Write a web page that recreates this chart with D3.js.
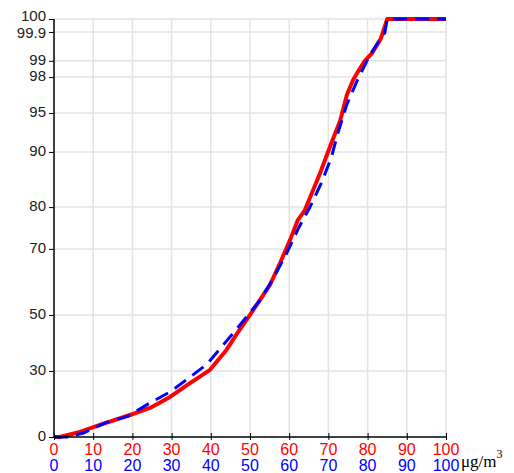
<!DOCTYPE html>
<html>
<head>
<meta charset="utf-8">
<script src="https://cdn.jsdelivr.net/npm/d3@7"></script>
<style>
body { margin:0; background:#fff; }
</style>
</head>
<body>
<svg id="chart" width="514" height="473"></svg>
<script>
// probability ticks on the y axis (cumulative %)
var yTicks = [0, 30, 50, 70, 80, 90, 95, 98, 99, 99.9, 100];
var yTickLabels = ["0", "30", "50", "70", "80", "90", "95", "98", "99", "99.9", "100"];
var xTicks = [0, 10, 20, 30, 40, 50, 60, 70, 80, 90, 100];

// red series: [concentration, cumulative %]
var redX = [0, 1.5, 6.6, 11.7, 19.4, 24.5, 29.6, 34.7, 39.8, 44, 47, 50, 55.1, 57.7, 60.2, 62.2, 64, 67.9, 70.5, 73, 74.7, 76.3, 78.1, 79.3, 81.2, 83.4, 85, 100];
var redP = [0, 0, 2.3, 5.5, 10, 13.2, 18.2, 24.5, 30.4, 37.5, 44, 50, 59.1, 65.8, 72.1, 76.9, 79.3, 86.2, 90.8, 94, 96.5, 97.75, 98.56, 99, 99.25, 99.7, 100, 100];

// blue series
var blueX = [0, 3.4, 7.5, 13, 18.9, 24.5, 29.6, 34.7, 39, 43, 46.6, 52.6, 55.9, 59.4, 62.5, 65.3, 68.3, 70.8, 72.4, 74.7, 77.2, 80.6, 84.4, 85, 100];
var blueP = [0, 0, 1.8, 6.4, 9.5, 15.5, 20.5, 27.2, 32.4, 39, 45, 54.5, 61, 68.8, 75.2, 80, 84.5, 89.1, 92.4, 95.7, 97.6, 99.19, 99.88, 100, 100];

var margin = {left:54, top:19, right:68, bottom:36};
var width = 514 - margin.left - margin.right;
var height = 473 - margin.top - margin.bottom;

var svg = d3.select("#chart");
var g = svg.append("g").attr("transform", "translate(" + margin.left + "," + margin.top + ")");

var x = d3.scaleLinear().domain([0, 100]).range([0, width]);
var yFrac = [0, 0.158, 0.292, 0.450, 0.550, 0.682, 0.775, 0.861, 0.900, 0.969, 1];
var y = d3.scaleLinear()
    .domain(yTicks)
    .range(yFrac.map(function(f) { return height - f * height; }));

// grid
g.append("g").selectAll("line")
    .data(xTicks.slice(1))
    .enter().append("line")
    .attr("x1", function(d) { return x(d); })
    .attr("x2", function(d) { return x(d); })
    .attr("y1", y(100)).attr("y2", y(0))
    .style("stroke", "#e3e3e3").style("stroke-width", 1.5);
g.append("g").selectAll("line")
    .data(yTicks.slice(1))
    .enter().append("line")
    .attr("x1", 0).attr("x2", width)
    .attr("y1", function(d) { return y(d); })
    .attr("y2", function(d) { return y(d); })
    .style("stroke", "#e3e3e3").style("stroke-width", 1.5);

function toPoints(xs, ps) {
    var pts = [];
    for (var i = 0; i < xs.length; i++) {
        pts.push([xs[i], ps[i]]);
    }
    return pts;
}

var line = d3.line()
    .x(function(d) { return x(d[0]); })
    .y(function(d) { return y(d[1]); });

g.append("path")
    .datum(toPoints(redX, redP))
    .attr("d", line)
    .style("fill", "none")
    .style("stroke", "#ff0000")
    .style("stroke-width", 4)
    .style("stroke-linejoin", "round");

g.append("path")
    .datum(toPoints(blueX, blueP))
    .attr("d", line)
    .style("fill", "none")
    .style("stroke", "#0000ff")
    .style("stroke-width", 3)
    .style("stroke-dasharray", "14,8");

// y axis
var yAxis = g.append("g")
    .call(d3.axisLeft(y).tickValues(yTicks).tickSize(5)
        .tickFormat(function(d, i) { return yTickLabels[i]; }));
yAxis.select(".domain").attr("d", "M0," + y(100) + "V" + y(0)).style("stroke", "#000").style("stroke-width", 1.5);
yAxis.selectAll(".tick line").style("stroke", "#000");
yAxis.selectAll(".tick text")
    .attr("x", -8)
    .attr("y", function(d) { return d == 100 ? -3 : (d == 99.9 ? 1 : -1); })
    .style("font-family", "'Liberation Sans', Arial, sans-serif")
    .style("font-size", "15px")
    .style("fill", "#222");

// x axis, two rows of labels
var xAxis = g.append("g")
    .attr("transform", "translate(0," + height + ")")
    .call(d3.axisBottom(x).tickValues(xTicks).tickSize(3).tickFormat(""));
xAxis.select(".domain").attr("d", "M0,0H" + width).style("stroke", "#000").style("stroke-width", 1.5);
xAxis.selectAll(".tick line").attr("y1", -4).attr("y2", 3).style("stroke", "#000");

var rows = [{color:"#ff0000", dy:18}, {color:"#0000ff", dy:34}];
rows.forEach(function(r) {
    g.append("g").selectAll("text")
        .data(xTicks)
        .enter().append("text")
        .attr("x", function(d) { return x(d); })
        .attr("y", height + r.dy)
        .attr("text-anchor", "middle")
        .style("font-family", "'Liberation Sans', Arial, sans-serif")
        .style("font-size", "16px")
        .style("fill", r.color)
        .text(function(d) { return d; });
});

var unit = g.append("text")
    .attr("x", width + 15)
    .attr("y", height + 30)
    .style("font-family", "'Liberation Serif', 'Times New Roman', serif")
    .style("font-size", "17px")
    .style("fill", "#000")
    .text("μg/m");
unit.append("tspan")
    .attr("dy", -9)
    .style("font-size", "12px")
    .text("3");
</script>
</body>
</html>
